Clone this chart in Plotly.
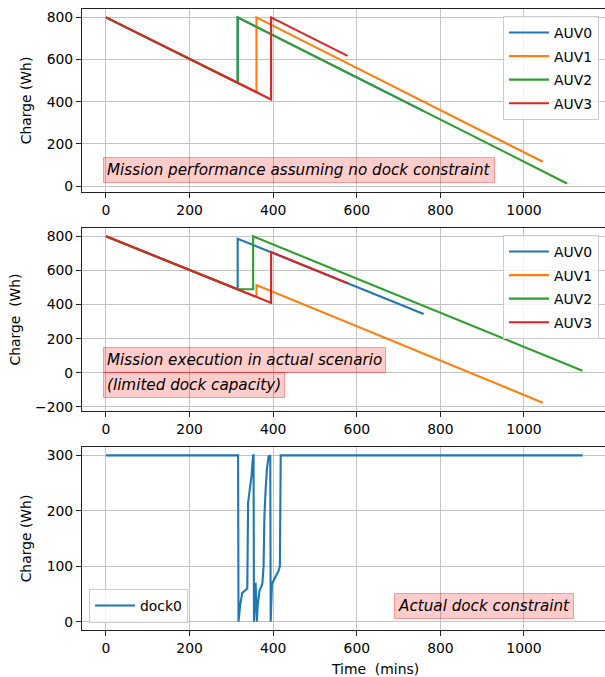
import plotly.graph_objects as go

# ---- data -----------------------------------------------------------------
auv_names = ["AUV0", "AUV1", "AUV2", "AUV3"]
auv_colors = ["#1f77b4", "#ff7f0e", "#2ca02c", "#d62728"]

# Planned missions (no dock constraint): time (mins) / charge (Wh)
plan_auv0_t = [0, 315, 315, 760]
plan_auv0_c = [800, 489, 800, 355]
plan_auv1_t = [0, 360, 360, 1045]
plan_auv1_c = [800, 446, 800, 115]
plan_auv2_t = [0, 315, 315, 1103]
plan_auv2_c = [800, 489, 800, 12]
plan_auv3_t = [0, 395, 395, 578]
plan_auv3_c = [800, 410, 800, 617]

# Executed missions (limited dock capacity)
exec_auv0_t = [0, 315, 315, 760]
exec_auv0_c = [800, 490, 786, 345]
exec_auv1_t = [0, 360, 360, 1045]
exec_auv1_c = [800, 446, 515, -175]
exec_auv2_t = [0, 315, 352, 352, 1140]
exec_auv2_c = [800, 490, 490, 800, 12]
exec_auv3_t = [0, 395, 395, 578]
exec_auv3_c = [800, 410, 708, 525]

# Dock energy store
dock0_t = [0, 316, 317, 321, 326, 335, 338, 340, 344, 348, 352, 353, 354, 358,
           361, 363, 367, 374, 377, 379, 382, 385, 389, 392, 393, 394, 397, 405,
           413, 416, 418, 1140]
dock0_c = [300, 300, 0, 30, 52, 57, 60, 215, 240, 262, 300, 300, 0, 70,
           0, 30, 55, 68, 100, 190, 240, 275, 298, 300, 300, 0, 68, 80,
           92, 100, 300, 300]

x_ticks = [0, 200, 400, 600, 800, 1000]
plan_y_ticks = [0, 200, 400, 600, 800]
exec_y_ticks = [-200, 0, 200, 400, 600, 800]
dock_y_ticks = [0, 100, 200, 300]

plan_series = [(plan_auv0_t, plan_auv0_c), (plan_auv1_t, plan_auv1_c),
               (plan_auv2_t, plan_auv2_c), (plan_auv3_t, plan_auv3_c)]
exec_series = [(exec_auv0_t, exec_auv0_c), (exec_auv1_t, exec_auv1_c),
               (exec_auv2_t, exec_auv2_c), (exec_auv3_t, exec_auv3_c)]

FONT = "DejaVu Sans"
FS = 13.9
BOX_FS = 15.2
LW = 2.1

fig = go.Figure()

for (t, c), name, col in zip(plan_series, auv_names, auv_colors):
    fig.add_trace(go.Scatter(x=t, y=c, mode="lines", name=name,
                             legendgroup="plan_" + name,
                             line=dict(color=col, width=LW),
                             xaxis="x", yaxis="y", legend="legend"))
for (t, c), name, col in zip(exec_series, auv_names, auv_colors):
    fig.add_trace(go.Scatter(x=t, y=c, mode="lines", name=name,
                             legendgroup="exec_" + name,
                             line=dict(color=col, width=LW),
                             xaxis="x2", yaxis="y2", legend="legend2"))
fig.add_trace(go.Scatter(x=dock0_t, y=dock0_c, mode="lines", name="dock0",
                         line=dict(color=auv_colors[0], width=LW),
                         xaxis="x3", yaxis="y3", legend="legend3"))

x_range = [-57.4, 1193.8]


def xax(anchor):
    return dict(domain=[0, 1], anchor=anchor, range=x_range, tickvals=x_ticks,
                showgrid=True, gridcolor="#c4c4c4", gridwidth=1,
                showline=True, linecolor="#222", linewidth=1.1, mirror=True,
                ticks="outside", ticklen=5, tickwidth=1.1, tickcolor="#222",
                zeroline=False, tickfont=dict(family=FONT, size=FS, color="black"))


def yax(anchor, domain, rng, ticks, title):
    return dict(domain=domain, anchor=anchor, range=rng, tickvals=ticks,
                showgrid=True, gridcolor="#c4c4c4", gridwidth=1,
                showline=True, linecolor="#222", linewidth=1.1, mirror=False,
                ticks="outside", ticklen=5, tickwidth=1.1, tickcolor="#222",
                zeroline=False, tickfont=dict(family=FONT, size=FS, color="black"),
                title=dict(text=title, standoff=11,
                           font=dict(family=FONT, size=FS, color="black")))


legend_common = dict(bgcolor="rgba(255,255,255,0.8)", bordercolor="#cccccc",
                     borderwidth=1, tracegroupgap=2.5, itemwidth=40,
                     font=dict(family=FONT, size=FS, color="black"))

box_style = dict(showarrow=False, xanchor="left", yanchor="middle",
                 font=dict(family=FONT, size=BOX_FS, color="black", style="italic"),
                 bgcolor="rgba(255,0,0,0.2)", bordercolor="rgba(255,0,0,0.35)",
                 borderwidth=1, borderpad=3)

fig.update_layout(
    width=605, height=677,
    margin=dict(l=82, r=0, t=0, b=0, autoexpand=False),
    paper_bgcolor="white", plot_bgcolor="white",
    showlegend=True,
    font=dict(family=FONT, size=FS, color="black"),
    xaxis=xax("y"), xaxis2=xax("y2"), xaxis3=xax("y3"),
    yaxis=yax("x", [0.7164, 0.9867], [-28.4, 839.5], plan_y_ticks, "Charge (Wh)"),
    yaxis2=yax("x2", [0.3929, 0.6632], [-223.75, 848.75], exec_y_ticks,
               "Charge \u00a0(Wh)"),
    yaxis3=yax("x3", [0.0694, 0.3397], [-15, 315], dock_y_ticks, "Charge (Wh)"),
    legend=dict(x=0.9885, y=0.9764, xanchor="right", yanchor="top", **legend_common),
    legend2=dict(x=0.9885, y=0.6529, xanchor="right", yanchor="top", **legend_common),
    legend3=dict(x=0.0134, y=0.0798, xanchor="left", yanchor="bottom", **legend_common),
    annotations=[
        dict(xref="x", yref="y", x=-6, y=74,
             text="Mission performance assuming no dock constraint", **box_style),
        dict(xref="x2", yref="y2", x=-6, y=78,
             text="Mission execution in actual scenario", **box_style),
        dict(xref="x2", yref="y2", x=-6, y=-74,
             text="(limited dock capacity)", **box_style),
        dict(xref="x3", yref="y3", x=690, y=28,
             text="Actual dock constraint", **box_style),
        dict(xref="paper", yref="paper", x=0.5593, y=0.0118,
             xanchor="center", yanchor="middle", showarrow=False,
             text="Time \u00a0(mins)", font=dict(family=FONT, size=FS, color="black")),
    ],
)

fig.write_html("out.html")
